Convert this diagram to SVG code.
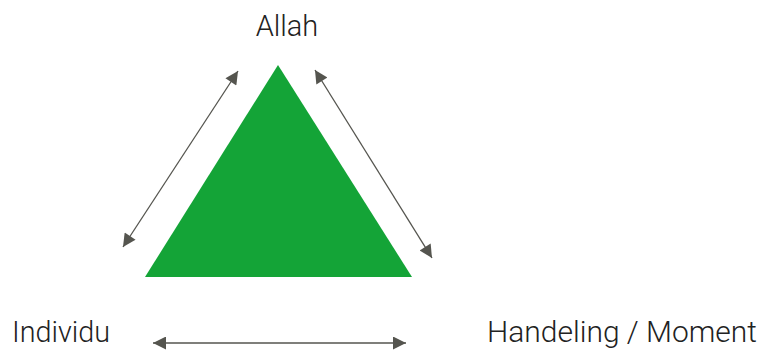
<svg xmlns="http://www.w3.org/2000/svg" width="763" height="351" viewBox="0 0 763 351">
<style>
.lbl{font-family:Roboto,"Liberation Sans",sans-serif;font-weight:300;font-size:29px;fill:#222}
.con{stroke:#55554f;stroke-width:1.3;fill:none;marker-start:url(#ah);marker-end:url(#ah)}
</style>
<defs>
<marker id="ah" viewBox="0 0 10 10" refX="10" refY="5" markerWidth="15" markerHeight="13" markerUnits="userSpaceOnUse" orient="auto-start-reverse">
<path d="M0,0 L10,5 L0,10 Z" fill="#55554f"/>
</marker>
</defs>
<rect width="763" height="351" fill="#fff"/>
<g id="triangle"><polygon points="278,65 145,277 412,277" fill="#14a437"/></g>
<g id="allah"><text class="lbl" x="287" y="36" text-anchor="middle">Allah</text></g>
<g id="individu"><text class="lbl" x="12" y="342" textLength="98" lengthAdjust="spacingAndGlyphs">Individu</text></g>
<g id="handeling"><text class="lbl" x="487" y="342" textLength="270" lengthAdjust="spacingAndGlyphs">Handeling / Moment</text></g>
<g id="connectors">
<line class="con" x1="238" y1="71" x2="123" y2="247"/>
<line class="con" x1="315" y1="70" x2="432" y2="258"/>
<line class="con" x1="153" y1="343" x2="406" y2="343"/>
</g>
</svg>
